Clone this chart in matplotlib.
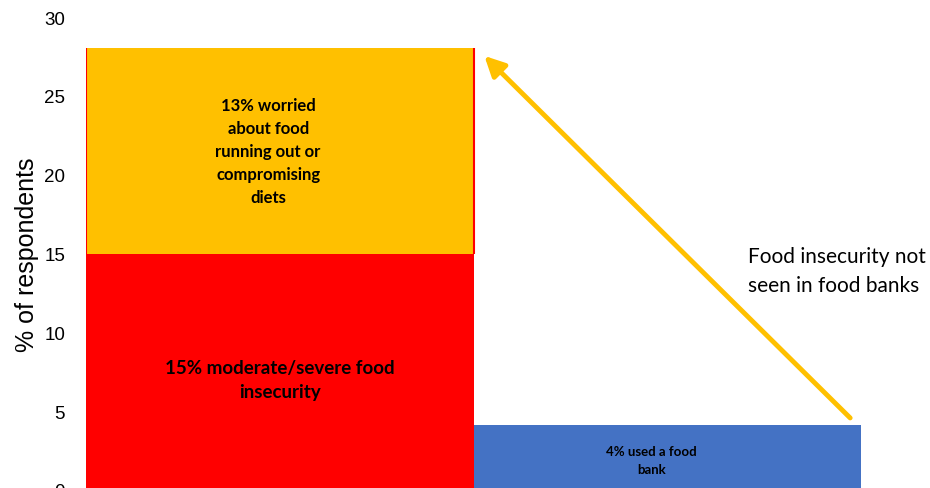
import matplotlib.pyplot as plt

# data
groups = ["Survey", "Food bank"]
moderate_severe = [15.0, 0.0]
worried = [13.1, 0.0]
food_bank = [0.0, 4.2]
y_ticks = [0, 5, 10, 15, 20, 25, 30]

orange = "#FFC000"
red = "#FF0000"
blue = "#4472C4"

fig = plt.figure(figsize=(9.3, 4.88), dpi=100)
ax = fig.add_axes([86 / 930, -0.006, 844 / 930, 0.969])

x = [0, 1]
ax.bar(x, moderate_severe, width=1.0, color=red, linewidth=0)
ax.bar(x, worried, width=1.0, bottom=moderate_severe, color=orange, linewidth=0)
ax.bar(x, food_bank, width=1.0, color=blue, linewidth=0)
# thin red edge running up the sides of the first column
top = moderate_severe[0] + worried[0]
ax.vlines([x[0] - 0.5, x[0] + 0.5], moderate_severe[0], top, color=red, lw=1.5)

ax.set_xlim(-0.5, 1.678)
ax.set_ylim(0, 30)
ax.set_yticks(y_ticks)
ax.tick_params(axis="y", length=0, labelsize=13.5, pad=15)
for lab in ax.get_yticklabels():
    lab.set_fontfamily("Liberation Sans")
ax.set_xticks([])
for s in ax.spines.values():
    s.set_visible(False)
ax.set_ylabel("% of respondents", fontsize=18, family="Liberation Sans", labelpad=4)

# labels inside bars
ax.text(-0.03, 21.5,
        "13% worried\nabout food\nrunning out or\ncompromising\ndiets",
        ha="center", va="center", fontsize=12, fontweight="bold",
        family="Lato", linespacing=1.53)
ax.text(0.0, 7.0, "15% moderate/severe food\ninsecurity",
        ha="center", va="center", fontsize=13.5, fontweight="bold",
        family="Lato", linespacing=1.5)
ax.text(0.96, 1.9, "4% used a food\nbank",
        ha="center", va="center", fontsize=9.5, fontweight="bold",
        family="Lato", linespacing=1.6)

# arrow and note
ax.annotate("", xy=(0.528, 27.6), xytext=(1.472, 4.63),
            arrowprops=dict(arrowstyle="-|>,head_length=1.2,head_width=0.6",
                            color=orange, lw=3.5, shrinkA=0, shrinkB=0))
ax.text(1.208, 13.94, "Food insecurity not\nseen in food banks",
        ha="left", va="center", fontsize=15, family="Lato", linespacing=1.58)

fig.savefig("out.png", dpi=100)
